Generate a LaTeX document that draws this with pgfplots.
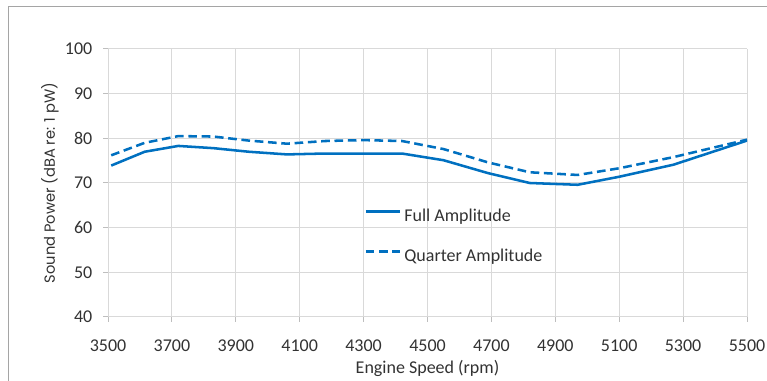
\documentclass[border=0pt]{standalone}
\usepackage{pgfplots}
\pgfplotsset{compat=1.18}
\usepackage{fontspec}
\setmainfont{Carlito}
\newfontfamily\gothic{Poppins}
\definecolor{lineblue}{RGB}{0,112,192}
\definecolor{gridgray}{RGB}{217,217,217}
\definecolor{tickgray}{RGB}{190,190,190}
\definecolor{framegray}{RGB}{165,165,165}
\definecolor{txtgray}{RGB}{50,50,50}
\begin{document}
\begin{tikzpicture}
\useasboundingbox (0pt,0pt) rectangle (575.25pt,285.75pt);
\draw[framegray, line width=0.75pt] (6pt,-5pt) -- (6pt,280.5pt) -- (590pt,280.5pt);
\begin{axis}[
  at={(81pt,48pt)}, anchor=south west, scale only axis,
  width=479.25pt, height=201pt,
  xmin=3500, xmax=5500, ymin=40, ymax=100,
  xtick={3500,3700,...,5500}, ytick={40,50,...,100},
  grid=major, major grid style={gridgray, line width=0.75pt},
  axis line style={draw=none},
  tick pos=left, tick align=outside, major tick length=3.75pt,
  tick style={tickgray, line width=0.75pt},
  /pgf/number format/1000 sep={},
  /pgf/number format/assume math mode=true,
  tick label style={font=\fontsize{13.5}{16}\selectfont, text=txtgray},
  x tick label style={yshift=-9.5pt},
  y tick label style={xshift=-4.5pt},
  xlabel={Engine Speed (rpm)},
  ylabel={Sound Power (dBA re: 1 pW)},
  xlabel style={at={(axis description cs:0.5,-0.1903)}, anchor=center, font=\fontsize{13.5}{16}\selectfont, text=txtgray},
  ylabel style={at={(axis description cs:-0.0908,0.5)}, anchor=center, font=\gothic\fontsize{11}{13}\selectfont, text=txtgray},
  legend style={draw=none, fill=none, at={(axis description cs:0.401,0.3)}, anchor=west, inner sep=0pt, row sep=17pt,
    font=\fontsize{13.5}{16}\selectfont, text=txtgray, cells={anchor=west},
    nodes={inner sep=0pt, text height=10pt, text depth=3pt}},
  legend image code/.code={\draw[#1] (0pt,4pt) -- (25.5pt,4pt);},
  legend cell align=left,
]
\addplot[lineblue, line width=1.9pt, line join=round] table {
x y
3510 73.9
3615 77.0
3720 78.3
3830 77.8
3940 77.0
4060 76.4
4180 76.6
4420 76.6
4550 75.1
4690 72.2
4820 70.0
4970 69.6
5100 71.4
5270 74.1
5500 79.5
};
\addlegendentry{\hspace{2.5pt}Full Amplitude}
\addplot[lineblue, line width=1.9pt, line join=round, dash pattern=on 6.5pt off 3.5pt] table {
x y
3510 76.2
3615 79.0
3720 80.5
3830 80.4
3940 79.5
4060 78.8
4180 79.4
4300 79.6
4420 79.4
4550 77.6
4690 74.6
4820 72.4
4970 71.8
5100 73.3
5270 75.8
5500 79.7
};
\addlegendentry{\hspace{2.5pt}Quarter Amplitude}
\end{axis}
\end{tikzpicture}
\end{document}
